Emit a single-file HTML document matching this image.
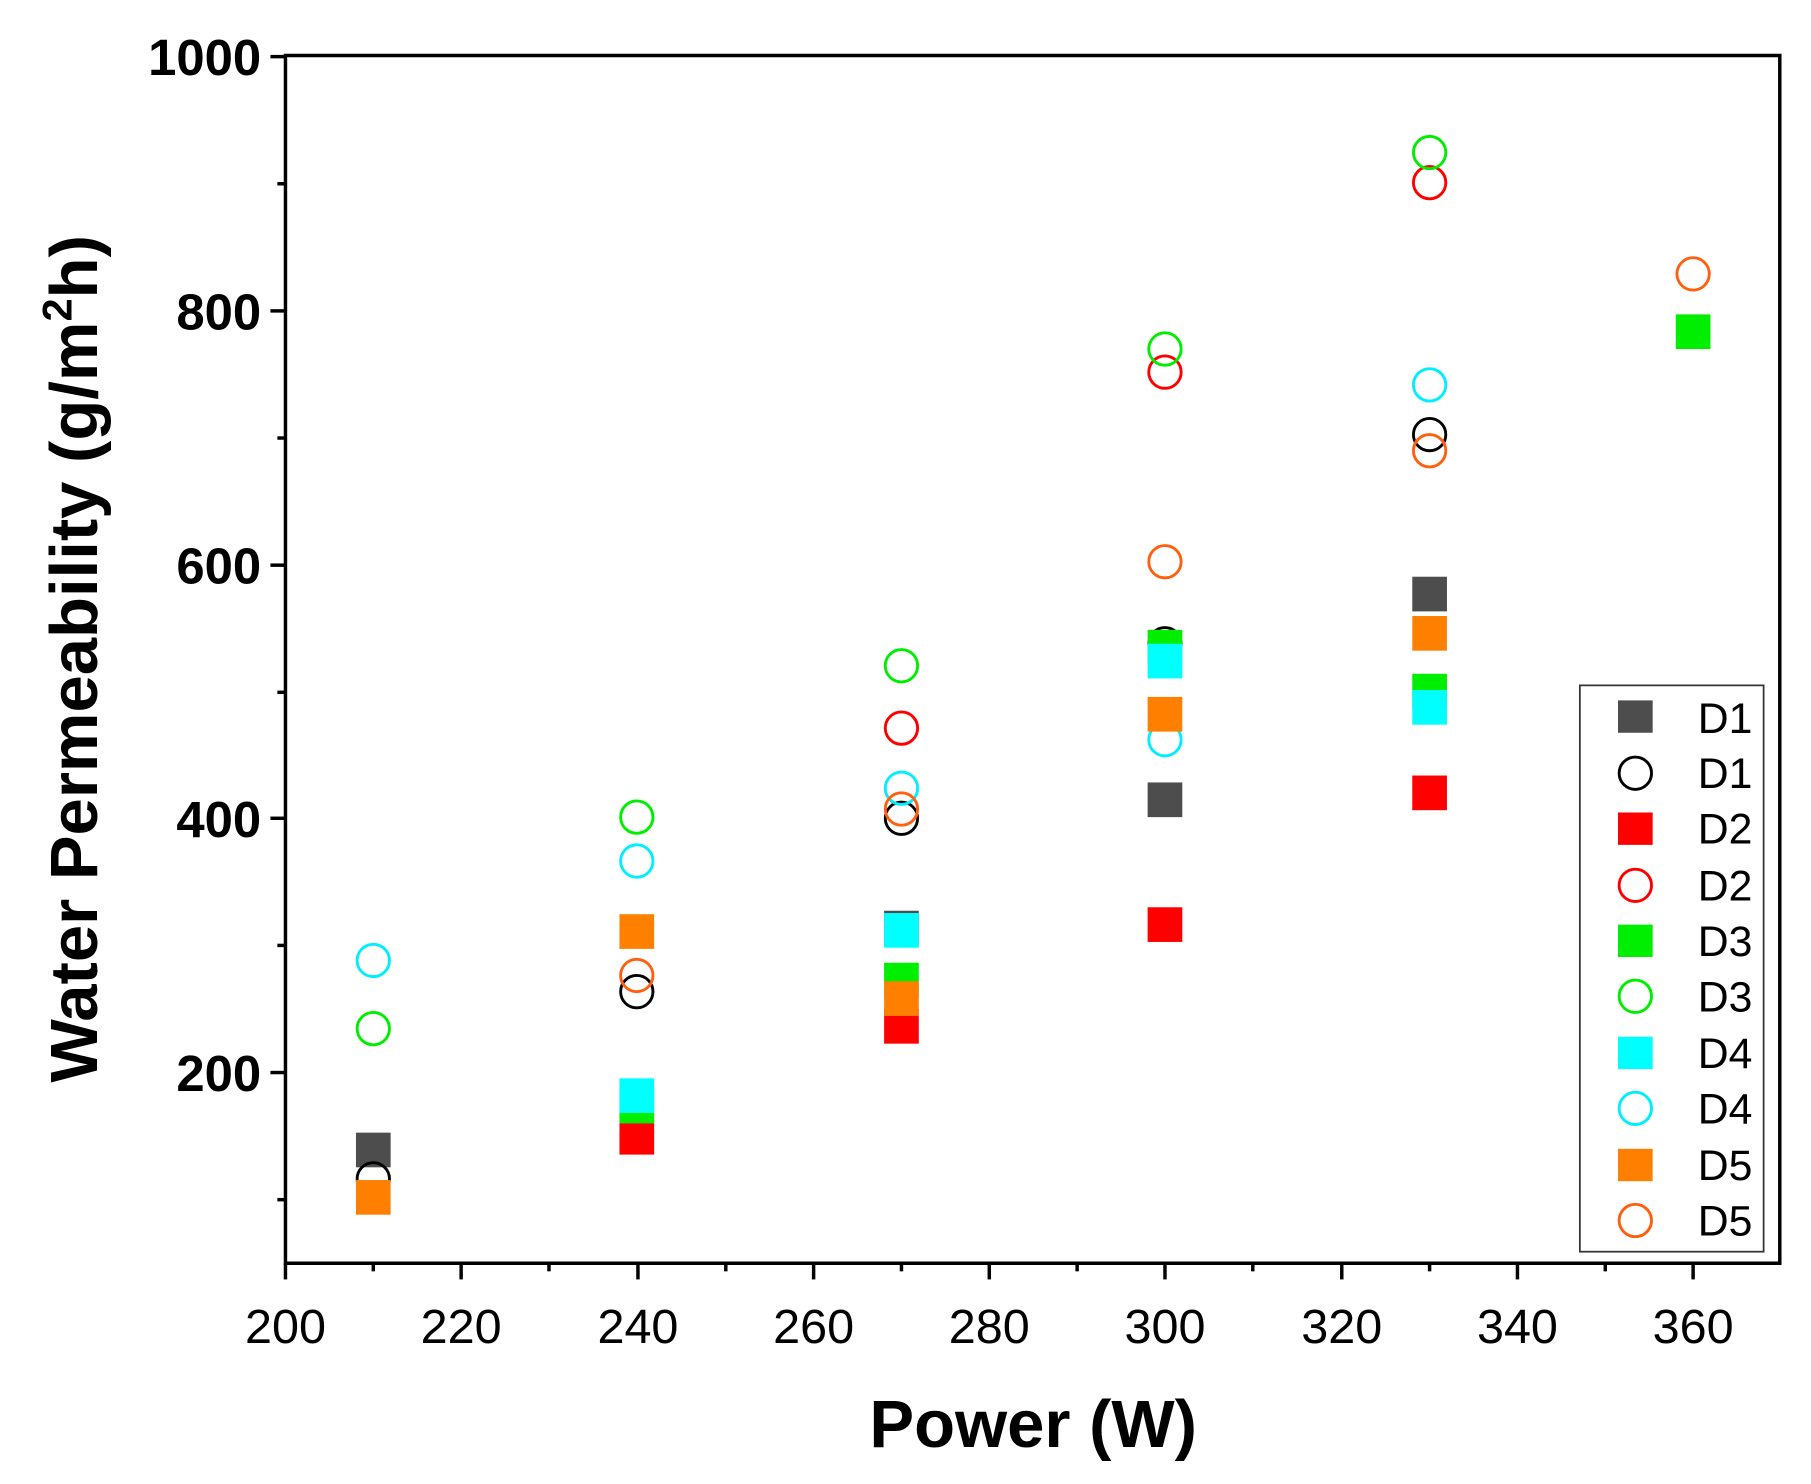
<!DOCTYPE html>
<html><head><meta charset="utf-8"><style>html,body{margin:0;padding:0;background:#fff}svg{display:block}</style></head>
<body>
<svg width="1811" height="1484" viewBox="0 0 1567 1284" preserveAspectRatio="none" font-family="Liberation Sans, Arial, sans-serif">
<rect width="1567" height="1284" fill="#fff"/>
<path d="M247 48 H1540 V1093 H247 Z" fill="none" stroke="#000" stroke-width="3"/>
<g stroke="#000" stroke-width="3">
<line x1="234" y1="49" x2="247" y2="49"/><line x1="234" y1="269" x2="247" y2="269"/><line x1="234" y1="489" x2="247" y2="489"/><line x1="234" y1="708" x2="247" y2="708"/><line x1="234" y1="928" x2="247" y2="928"/>
<line x1="240" y1="159" x2="247" y2="159"/><line x1="240" y1="379" x2="247" y2="379"/><line x1="240" y1="599" x2="247" y2="599"/><line x1="240" y1="818" x2="247" y2="818"/><line x1="240" y1="1038" x2="247" y2="1038"/>
</g>
<g font-weight="bold" font-size="44" text-anchor="end" fill="#000">
<text x="226" y="65">1000</text><text x="226" y="285">800</text><text x="226" y="505">600</text><text x="226" y="724">400</text><text x="226" y="944">200</text>
</g>
<g stroke="#000" stroke-width="3">
<line x1="247" y1="1093" x2="247" y2="1107"/><line x1="399" y1="1093" x2="399" y2="1107"/><line x1="552" y1="1093" x2="552" y2="1107"/><line x1="704" y1="1093" x2="704" y2="1107"/><line x1="856" y1="1093" x2="856" y2="1107"/><line x1="1008" y1="1093" x2="1008" y2="1107"/><line x1="1161" y1="1093" x2="1161" y2="1107"/><line x1="1313" y1="1093" x2="1313" y2="1107"/><line x1="1465" y1="1093" x2="1465" y2="1107"/>
<line x1="323" y1="1093" x2="323" y2="1100"/><line x1="475" y1="1093" x2="475" y2="1100"/><line x1="628" y1="1093" x2="628" y2="1100"/><line x1="780" y1="1093" x2="780" y2="1100"/><line x1="932" y1="1093" x2="932" y2="1100"/><line x1="1084" y1="1093" x2="1084" y2="1100"/><line x1="1237" y1="1093" x2="1237" y2="1100"/><line x1="1389" y1="1093" x2="1389" y2="1100"/>
</g>
<g font-size="42" text-anchor="middle" fill="#000">
<text x="247" y="1162">200</text><text x="399" y="1162">220</text><text x="552" y="1162">240</text><text x="704" y="1162">260</text><text x="856" y="1162">280</text><text x="1008" y="1162">300</text><text x="1161" y="1162">320</text><text x="1313" y="1162">340</text><text x="1465" y="1162">360</text>
</g>
<text x="894" y="1252" font-size="58" font-weight="bold" text-anchor="middle">Power (W)</text>
<text transform="translate(84,570) rotate(-90)" font-size="58" font-weight="bold" text-anchor="middle">Water Permeability (g/m<tspan font-size="36" dy="-22">2</tspan><tspan dy="22">h)</tspan></text>
<g>
<g fill="#4d4d4d"><rect x="308" y="980" width="30" height="30"/><rect x="765" y="788" width="30" height="30"/><rect x="993" y="677" width="30" height="30"/><rect x="1222" y="499" width="30" height="30"/></g>
<g fill="none" stroke="#000" stroke-width="2.5"><circle cx="323" cy="1020" r="14"/><circle cx="551" cy="858" r="14"/><circle cx="780" cy="708" r="14"/><circle cx="1008" cy="557" r="14"/><circle cx="1237" cy="376" r="14"/></g>
<g fill="#ff0000"><rect x="536" y="969" width="30" height="30"/><rect x="765" y="873" width="30" height="30"/><rect x="993" y="785" width="30" height="30"/><rect x="1222" y="671" width="30" height="30"/></g>
<g fill="none" stroke="#ff0000" stroke-width="2.5"><circle cx="780" cy="630" r="14"/><circle cx="1008" cy="322" r="14"/><circle cx="1237" cy="158" r="14"/></g>
<g fill="#00ee00"><rect x="536" y="942" width="30" height="30"/><rect x="765" y="833" width="30" height="30"/><rect x="993" y="545" width="30" height="30"/><rect x="1222" y="583" width="30" height="30"/><rect x="1450" y="272" width="30" height="30"/></g>
<g fill="none" stroke="#00ee00" stroke-width="2.5"><circle cx="323" cy="890" r="14"/><circle cx="551" cy="707" r="14"/><circle cx="780" cy="576" r="14"/><circle cx="1008" cy="302" r="14"/><circle cx="1237" cy="132" r="14"/></g>
<g fill="#00ffff"><rect x="536" y="933" width="30" height="30"/><rect x="765" y="790" width="30" height="30"/><rect x="993" y="557" width="30" height="30"/><rect x="1222" y="597" width="30" height="30"/></g>
<g fill="none" stroke="#00eeff" stroke-width="2.5"><circle cx="323" cy="831" r="14"/><circle cx="551" cy="745" r="14"/><circle cx="780" cy="682" r="14"/><circle cx="1008" cy="640" r="14"/><circle cx="1237" cy="333" r="14"/></g>
<g fill="#ff8000"><rect x="308" y="1021" width="30" height="30"/><rect x="536" y="791" width="30" height="30"/><rect x="765" y="849" width="30" height="30"/><rect x="993" y="603" width="30" height="30"/><rect x="1222" y="533" width="30" height="30"/></g>
<g fill="none" stroke="#ff6010" stroke-width="2.5"><circle cx="551" cy="844" r="14"/><circle cx="780" cy="700" r="14"/><circle cx="1008" cy="486" r="14"/><circle cx="1237" cy="390" r="14"/><circle cx="1465" cy="237" r="14"/></g>
</g>
<rect x="1367" y="593" width="159" height="490" fill="#fff" stroke="#333" stroke-width="1.5"/>
<g font-size="37" fill="#000">
<rect x="1400" y="606" width="30" height="28" fill="#4d4d4d"/><text x="1469" y="634">D1</text>
<circle cx="1415" cy="669" r="14" fill="none" stroke="#000" stroke-width="2.5"/><text x="1469" y="682">D1</text>
<rect x="1400" y="703" width="30" height="28" fill="#ff0000"/><text x="1469" y="730">D2</text>
<circle cx="1415" cy="766" r="14" fill="none" stroke="#ff0000" stroke-width="2.5"/><text x="1469" y="779">D2</text>
<rect x="1400" y="800" width="30" height="28" fill="#00ee00"/><text x="1469" y="827">D3</text>
<circle cx="1415" cy="862" r="14" fill="none" stroke="#00ee00" stroke-width="2.5"/><text x="1469" y="875">D3</text>
<rect x="1400" y="897" width="30" height="28" fill="#00ffff"/><text x="1469" y="924">D4</text>
<circle cx="1415" cy="959" r="14" fill="none" stroke="#00eeff" stroke-width="2.5"/><text x="1469" y="972">D4</text>
<rect x="1400" y="994" width="30" height="28" fill="#ff8000"/><text x="1469" y="1021">D5</text>
<circle cx="1415" cy="1056" r="14" fill="none" stroke="#ff6010" stroke-width="2.5"/><text x="1469" y="1069">D5</text>
</g>
</svg>
</body></html>
